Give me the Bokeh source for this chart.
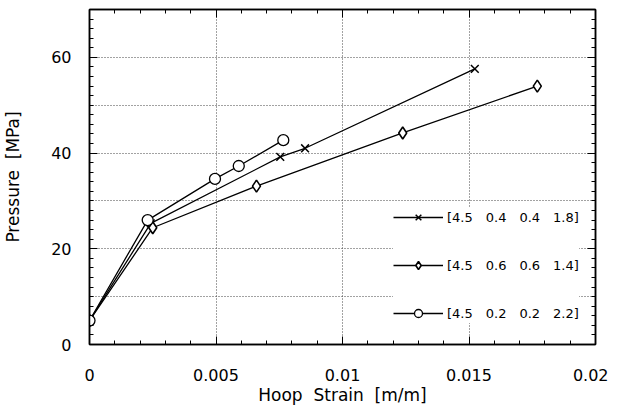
import numpy as np
from bokeh.plotting import figure
from bokeh.models import (LinearAxis, FixedTicker, Range1d, Legend, LegendItem,
                          CustomLabelingPolicy)
from bokeh.embed import file_html
from bokeh.resources import INLINE

# ---- data ----
strain_a = [0.0, 0.00242, 0.00754, 0.00852, 0.01523]   # [4.5 0.4 0.4 1.8]
press_a = [5.0, 25.3, 39.2, 41.0, 57.6]
strain_b = [0.0, 0.0025, 0.0066, 0.01238, 0.0177]      # [4.5 0.6 0.6 1.4]
press_b = [5.0, 24.4, 33.1, 44.2, 54.0]
strain_c = [0.0, 0.0023, 0.00496, 0.0059, 0.00766]     # [4.5 0.2 0.2 2.2]
press_c = [5.0, 26.0, 34.6, 37.3, 42.7]

labels = ["[4.5\u20030.4\u20030.4\u20031.8]",
          "[4.5\u20030.6\u20030.6\u20031.4]",
          "[4.5\u20030.2\u20030.2\u20032.2]"]

x_ticks = [0, 0.005, 0.01, 0.015, 0.02]
x_tick_labels = ["0", "0.005", "0.01", "0.015", "0.02"]
x_minor = [float(v) for v in np.round(np.arange(0, 0.0201, 0.001), 4)]
y_ticks = [0, 20, 40, 60]
y_tick_labels = ["0", "20", "40", "60"]
y_minor = [float(v) for v in np.arange(0, 71, 2)]
y_grid = [10, 20, 30, 40, 50, 60]
x_grid = [0.005, 0.01, 0.015]

FONT = "DejaVu Sans"

p = figure(width=608, height=407, x_range=Range1d(0, 0.02), y_range=Range1d(0, 70),
           output_backend="svg", toolbar_location=None,
           min_border_left=2, min_border_right=13, min_border_top=9, min_border_bottom=2)
p.outline_line_color = "black"
p.outline_line_width = 1.5
p.background_fill_color = "white"

# grid
p.xgrid.ticker = FixedTicker(ticks=x_grid)
p.ygrid.ticker = FixedTicker(ticks=y_grid)
for g in (p.xgrid, p.ygrid):
    g.grid_line_color = "#444444"
    g.grid_line_dash = "1 2"
    g.grid_line_width = 1

def style_axis(ax, show_labels):
    ax.major_tick_in = 8
    ax.major_tick_out = 0
    ax.minor_tick_in = 4
    ax.minor_tick_out = 0
    ax.major_tick_line_color = "black"
    ax.minor_tick_line_color = "black"
    ax.axis_line_color = "black"
    ax.axis_line_width = 1.5
    if show_labels:
        ax.major_label_text_font = FONT
        ax.major_label_text_font_size = "16px"
        ax.major_label_text_color = "black"
        ax.axis_label_text_font = FONT
        ax.axis_label_text_font_size = "17px"
        ax.axis_label_text_font_style = "normal"
        ax.axis_label_text_color = "black"
    else:
        ax.major_label_policy = CustomLabelingPolicy(
            code="return new indices.constructor(indices.size)")
        ax.major_label_text_font_size = "1px"
        ax.major_label_standoff = 0

xa = p.xaxis[0]
xa.ticker = FixedTicker(ticks=x_ticks, minor_ticks=x_minor)
xa.major_label_overrides = dict(zip(x_ticks, x_tick_labels))
xa.axis_label = "Hoop\u00a0 Strain\u00a0 [m/m]"
style_axis(xa, True)
xa.major_label_standoff = 24
xa.axis_label_standoff = 1

ya = p.yaxis[0]
ya.ticker = FixedTicker(ticks=y_ticks, minor_ticks=y_minor)
ya.major_label_overrides = dict(zip(y_ticks, y_tick_labels))
ya.axis_label = "Pressure\u00a0 [MPa]"
style_axis(ya, True)
ya.major_label_standoff = 18
ya.axis_label_standoff = 25

top = LinearAxis(ticker=FixedTicker(ticks=x_ticks, minor_ticks=x_minor))
style_axis(top, False)
p.add_layout(top, "above")
right = LinearAxis(ticker=FixedTicker(ticks=y_ticks, minor_ticks=y_minor))
style_axis(right, False)
p.add_layout(right, "right")

# series
la = p.line(strain_a, press_a, line_color="black", line_width=1.3)
sa = p.scatter(strain_a, press_a, marker="x", size=11, line_color="black", line_width=1.5)
lb = p.line(strain_b, press_b, line_color="black", line_width=1.3)
sb = p.scatter(strain_b, press_b, marker="diamond", size=12,
               line_color="black", fill_color="white", line_width=1.6)
lc = p.line(strain_c, press_c, line_color="black", line_width=1.3)
sc = p.scatter(strain_c, press_c, marker="circle", size=11, line_color="black",
               fill_color="white", line_width=1.3)

legend = Legend(items=[LegendItem(label=labels[0], renderers=[la, sa]),
                       LegendItem(label=labels[1], renderers=[lb, sb]),
                       LegendItem(label=labels[2], renderers=[lc, sc])],
                location=(304, 21))
legend.border_line_color = None
legend.background_fill_color = "white"
legend.background_fill_alpha = 1.0
legend.glyph_width = 50
legend.glyph_height = 20
legend.label_height = 20
legend.spacing = 28
legend.padding = 10
legend.label_standoff = 4
legend.label_text_font = FONT
legend.label_text_font_size = "13px"
legend.label_text_color = "black"
p.add_layout(legend, "center")

open("out.html", "w").write(file_html(p, INLINE))
